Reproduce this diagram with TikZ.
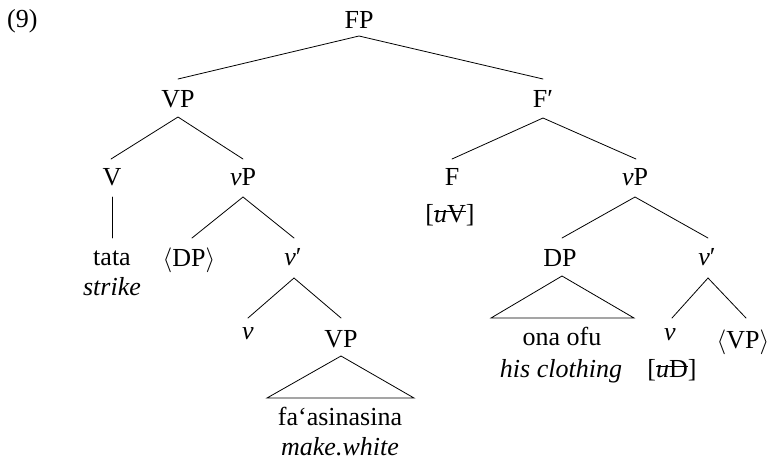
\documentclass[tikz,border=0pt]{standalone}
\usepackage{fontspec}
\setmainfont{Liberation Serif}
\newcommand{\strk}[1]{\begingroup\setbox0\hbox{#1}\rlap{\rule[0.38em]{\wd0}{0.8pt}}\box0\endgroup}
\begin{document}
\begin{tikzpicture}[x=1pt,y=-1pt,
  lbl/.style={font=\fontsize{26}{30}\selectfont, inner sep=0pt, anchor=base},
  edge/.style={line width=0.8pt, line cap=round}]
\useasboundingbox (0,0) rectangle (770,461);
% labels
\node[lbl, anchor=base west] (ex) at (7,27) {(9)};
\node[lbl] (FP) at (359,28) {FP};
\node[lbl] (VPa) at (178,107) {VP};
\node[lbl] (Fbar) at (543,107) {F′};
\node[lbl] (V) at (112,185) {V};
\node[lbl] (vPa) at (243,185) {\textit{v}P};
\node[lbl] (tata) at (112,265) {tata};
\node[lbl] (strike) at (112,295) {\textit{strike}};
\node[lbl] (DPa) at (189,266) {$\langle$DP$\rangle$};
\node[lbl] (vbara) at (293,265) {\textit{v}′};
\node[lbl] (va) at (248,339) {\textit{v}};
\node[lbl] (VPb) at (341,347) {VP};
\node[lbl] (fa) at (340,425) {fa‘asinasina};
\node[lbl] (mw) at (340,455) {\textit{make.white}};
\node[lbl] (F) at (452,185) {F};
\node[lbl] (uV) at (450,222) {[\strk{\textit{u}V}]};
\node[lbl] (vPb) at (635,185) {\textit{v}P};
\node[lbl] (DPb) at (560,266) {DP};
\node[lbl] (ona) at (562,345) {ona ofu};
\node[lbl] (hc) at (561,377) {\textit{his clothing}};
\node[lbl] (vbarb) at (707,265) {\textit{v}′};
\node[lbl] (vb) at (670,340) {\textit{v}};
\node[lbl] (uD) at (672,377) {[\strk{\textit{u}D}]};
\node[lbl] (VPc) at (743,348) {$\langle$VP$\rangle$};
% connection points
\coordinate (FP-b) at (359,36);
\coordinate (VPa-t) at (178,79);
\coordinate (VPa-b) at (178,117);
\coordinate (Fbar-t) at (543,79);
\coordinate (Fbar-b) at (543,118);
\coordinate (V-t) at (111,159);
\coordinate (V-b) at (112,197);
\coordinate (tata-t) at (112,238);
\coordinate (vPa-t) at (243,159);
\coordinate (vPa-b) at (243,197);
\coordinate (DPa-t) at (192,238);
\coordinate (vbara-t) at (294,238);
\coordinate (vbara-b) at (294,278);
\coordinate (va-t) at (248,318);
\coordinate (VPb-t) at (341,318);
\coordinate (VPb-b) at (341,356);
\coordinate (triA-l) at (267,398);
\coordinate (triA-r) at (414,398);
\coordinate (F-t) at (452,159);
\coordinate (vPb-t) at (636,159);
\coordinate (vPb-b) at (635,197);
\coordinate (DPb-t) at (562,238);
\coordinate (DPb-b) at (562,276);
\coordinate (triB-l) at (491,318);
\coordinate (triB-r) at (634,318);
\coordinate (vbarb-t) at (708,238);
\coordinate (vbarb-b) at (708,278);
\coordinate (vb-t) at (672,318);
\coordinate (VPc-t) at (746,318);
% edges
\draw[edge] (VPa-t) -- (FP-b) -- (Fbar-t);
\draw[edge] (V-t) -- (VPa-b) -- (vPa-t);
\draw[edge] (V-b) -- (tata-t);
\draw[edge] (DPa-t) -- (vPa-b) -- (vbara-t);
\draw[edge] (va-t) -- (vbara-b) -- (VPb-t);
\draw[edge] (VPb-b) -- (triA-l) -- (triA-r) -- cycle;
\draw[edge] (F-t) -- (Fbar-b) -- (vPb-t);
\draw[edge] (DPb-t) -- (vPb-b) -- (vbarb-t);
\draw[edge] (DPb-b) -- (triB-l) -- (triB-r) -- cycle;
\draw[edge] (vb-t) -- (vbarb-b) -- (VPc-t);
\end{tikzpicture}
\end{document}
